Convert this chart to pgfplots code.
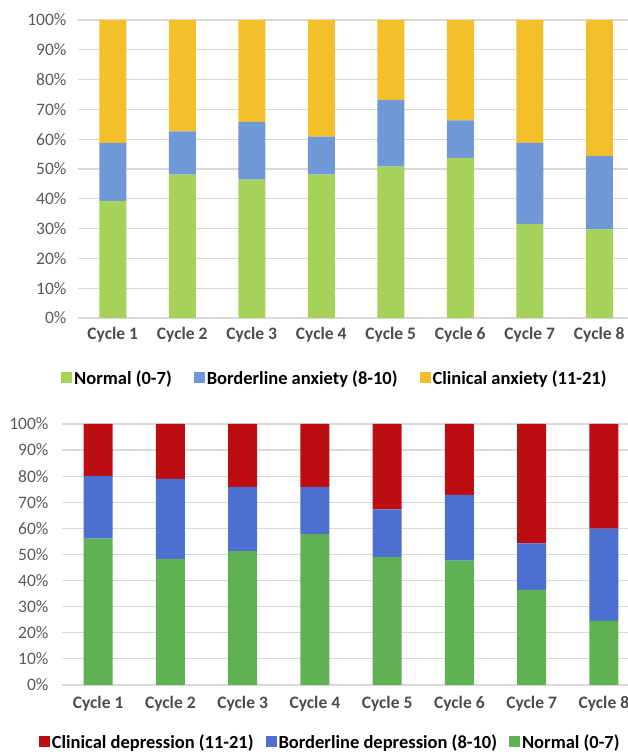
\documentclass[border=0pt]{standalone}
\usepackage{pgfplots}
\pgfplotsset{compat=1.18}
\usepackage{fontspec}
\setmainfont{Carlito}

\definecolor{axgreen}{HTML}{A6D25A}
\definecolor{axblue}{HTML}{6F98D6}
\definecolor{axyellow}{HTML}{F3C02C}
\definecolor{dpred}{HTML}{BC0D12}
\definecolor{dpblue}{HTML}{4C6FD0}
\definecolor{dpgreen}{HTML}{5EB252}
\definecolor{gridgrey}{HTML}{D9D9D9}
\definecolor{txtgrey}{HTML}{595959}

\pgfplotsset{
  cyclebars/.style={
    ybar stacked,
    scale only axis,
    anchor=south west,
    ymin=0, ymax=100,
    xmin=0.5, xmax=8.5,
    ytick={0,10,...,100},
    yticklabel={\pgfmathprintnumber{\tick}\%},
    xtick={1,...,8},
    xticklabels={Cycle 1,Cycle 2,Cycle 3,Cycle 4,Cycle 5,Cycle 6,Cycle 7,Cycle 8},
    ymajorgrids,
    grid style={gridgrey, line width=1.2pt},
    axis line style={draw=none},
    major tick length=0pt,
    /pgf/number format/assume math mode=true,
    tick label style={font=\fontsize{17.5}{20}\selectfont, text=txtgrey},
    xticklabel style={font=\fontsize{17.5}{20}\selectfont\bfseries, text=black!70},
    legend columns=3,
    legend cell align=left,
    legend style={draw=none, fill=none, font=\fontsize{18.5}{21}\selectfont\bfseries,
      /tikz/every even column/.append style={column sep=20pt}},
    legend image code/.code={\fill[#1] (0pt,-5.5pt) rectangle (11pt,5.5pt);},
  }
}

\begin{document}
\begin{tikzpicture}[x=1pt,y=1pt]
% anxiety
\begin{axis}[cyclebars, at={(78pt,436pt)}, width=556pt, height=298pt, bar width=27pt,
  xticklabel style={yshift=-6pt}, yticklabel style={xshift=-8pt},
  legend style={at={(0.462,-0.201)}, anchor=center}]
\addplot[fill=axgreen, draw=none] coordinates {
  (1,39.3) (2,48.1) (3,46.4) (4,48.1) (5,50.8) (6,53.7) (7,31.6) (8,29.7)};
\addplot[fill=axblue, draw=none] coordinates {
  (1,19.5) (2,14.5) (3,19.4) (4,12.8) (5,22.3) (6,12.6) (7,27.2) (8,24.7)};
\addplot[fill=axyellow, draw=none] coordinates {
  (1,41.2) (2,37.4) (3,34.2) (4,39.1) (5,26.9) (6,33.7) (7,41.2) (8,45.6)};
\legend{Normal (0-7),Borderline anxiety (8-10),Clinical anxiety (11-21)}
\end{axis}
% depression
\begin{axis}[cyclebars, at={(62pt,69pt)}, width=578pt, height=261pt, bar width=29pt,
  xticklabel style={yshift=-8pt}, yticklabel style={xshift=-10pt},
  reverse legend,
  legend style={at={(0.464,-0.218)}, anchor=center,
    /tikz/every even column/.append style={column sep=10pt}}]
\addplot[fill=dpgreen, draw=none] coordinates {
  (1,56.1) (2,48.3) (3,51.3) (4,57.8) (5,49.0) (6,47.7) (7,36.4) (8,24.6)};
\addplot[fill=dpblue, draw=none] coordinates {
  (1,24.0) (2,30.7) (3,24.5) (4,18.0) (5,18.3) (6,25.1) (7,17.9) (8,35.3)};
\addplot[fill=dpred, draw=none] coordinates {
  (1,19.9) (2,21.0) (3,24.2) (4,24.2) (5,32.7) (6,27.2) (7,45.7) (8,40.1)};
\legend{Normal (0-7),Borderline depression (8-10),Clinical depression (11-21)}
\end{axis}
\pgfresetboundingbox
\path (0pt,0pt) rectangle (628pt,754pt);
\end{tikzpicture}
\end{document}
